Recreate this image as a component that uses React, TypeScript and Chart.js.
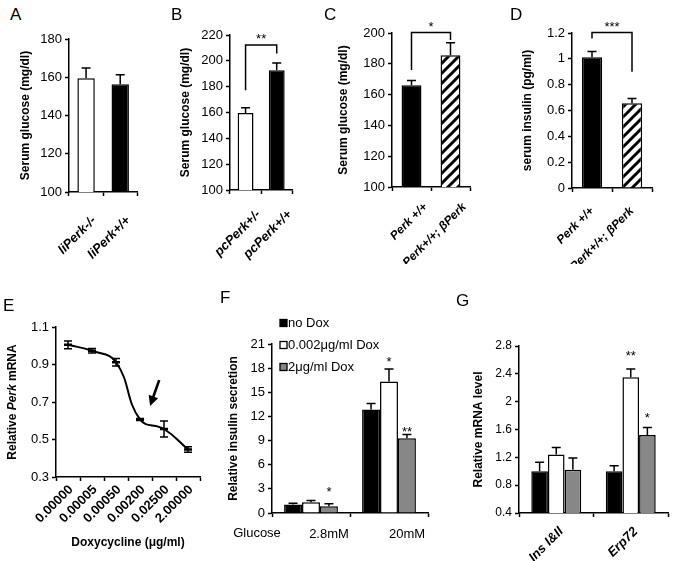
import React, { useEffect, useRef } from 'react';
import { Chart, registerables } from 'chart.js';

Chart.register(...registerables);

const FONT = "'Liberation Sans', Arial, Helvetica, sans-serif";
const BLACK = '#000000';
const WHITE = '#ffffff';
const GRAY = '#878787';

// ---------- Panel A ----------
const aCategories = ['liPerk-/-', 'liPerk+/+'];
const aValues = [159.5, 156.4];
const aErrors = [5.3, 4.9];
const aAxis = [100, 180, 20];

// ---------- Panel B ----------
const bCategories = ['pcPerk+/-', 'pcPerk+/+'];
const bValues = [159.6, 192.7];
const bErrors = [4.1, 5.7];
const bAxis = [100, 220, 20];
const bBracket = [212.2, 177.2, 205.7, 219.5]; // top, left end, right end, mark level
const bMark = '**';

// ---------- Panel C ----------
const cCategories = ['Perk +/+', 'Perk+/+; βPerk'];
const cValues = [166.0, 185.6];
const cErrors = [3.2, 8.0];
const cAxis = [100, 200, 20];
const cBracket = [200.3, 176.0, 195.5, 206.0];
const cMark = '*';

// ---------- Panel D ----------
const dCategories = ['Perk +/+', 'Perk+/+; βPerk'];
const dValues = [1.012, 0.657];
const dErrors = [0.045, 0.035];
const dAxis = [0, 1.2, 0.2];
const dBracket = [1.203, 1.157, 0.9, 1.272];
const dMark = '***';

// ---------- Panel E ----------
const eCategories = ['0.00000', '0.00005', '0.00050', '0.00200', '0.02500', '2.00000'];
const eValues = [1.005, 0.973, 0.912, 0.607, 0.556, 0.447];
const eErrors = [0.021, 0.012, 0.02, 0.005, 0.043, 0.015];
const eAxis = [0.3, 1.1, 0.2];
const eArrow = [3.8, 0.817, 3.42, 0.679]; // tail x-index, tail value, head x-index, head value

// ---------- Panel F ----------
const fCategories = ['2.8mM', '20mM'];
const fSeries = ['no Dox', '0.002μg/ml Dox', '2μg/ml Dox'];
const fNoDox = [1.05, 12.85];
const fLowDox = [1.35, 16.35];
const fHighDox = [0.85, 9.3];
const fNoDoxErr = [0.15, 0.75];
const fLowDoxErr = [0.2, 1.55];
const fHighDoxErr = [0.3, 0.45];
const fAxis = [0, 21, 3];
const fMarks = [
  { series: 2, cat: 0, value: 3.1, text: '*' },
  { series: 1, cat: 1, value: 19.2, text: '*' },
  { series: 2, cat: 1, value: 10.5, text: '**' },
];

// ---------- Panel G ----------
const gCategories = ['Ins I&II', 'Erp72'];
const gNoDox = [1.0, 1.0];
const gLowDox = [1.24, 2.35];
const gHighDox = [1.02, 1.52];
const gNoDoxErr = [0.13, 0.08];
const gLowDoxErr = [0.1, 0.12];
const gHighDoxErr = [0.17, 0.11];
const gAxis = [0.4, 2.8, 0.4];
const gMarks = [
  { series: 1, cat: 1, value: 2.7, text: '**' },
  { series: 2, cat: 1, value: 1.81, text: '*' },
];

// ---------- helpers ----------
const fmt = (v: number | string) => String(Math.round(Number(v) * 100) / 100);

function makeHatch(): any {
  const s = 10;
  const c = document.createElement('canvas');
  c.width = s;
  c.height = s;
  const g = c.getContext('2d');
  if (!g) return WHITE;
  g.fillStyle = WHITE;
  g.fillRect(0, 0, s, s);
  g.strokeStyle = BLACK;
  g.lineWidth = 3;
  g.beginPath();
  [0, s, 2 * s].forEach((k) => {
    g.moveTo(k - s - 2, s + 2);
    g.lineTo(k + 2, -2);
  });
  g.stroke();
  return g.createPattern(c, 'repeat') || WHITE;
}

function drawMark(ctx: CanvasRenderingContext2D, text: string, x: number, y: number) {
  ctx.save();
  ctx.fillStyle = BLACK;
  ctx.font = `13px ${FONT}`;
  ctx.textAlign = 'center';
  ctx.textBaseline = 'alphabetic';
  ctx.fillText(text, x, y + 7.5);
  ctx.restore();
}

const errorBarsPlugin = {
  id: 'errorBars',
  afterDatasetsDraw(chart: any, _a: any, opts: any) {
    const ctx = chart.ctx;
    const ys = chart.scales.y;
    const cap = opts.cap ?? 4;
    chart.data.datasets.forEach((ds: any, di: number) => {
      const errs: number[] | undefined = ds.errors;
      if (!errs) return;
      const meta = chart.getDatasetMeta(di);
      meta.data.forEach((el: any, i: number) => {
        const v = ds.data[i] as number;
        const e = errs[i];
        const yTop = ys.getPixelForValue(v + e);
        const yBot = ys.getPixelForValue(opts.both ? v - e : v);
        ctx.save();
        ctx.strokeStyle = BLACK;
        ctx.lineWidth = opts.width ?? 1.5;
        ctx.beginPath();
        ctx.moveTo(el.x, yBot);
        ctx.lineTo(el.x, yTop);
        ctx.moveTo(el.x - cap, yTop);
        ctx.lineTo(el.x + cap, yTop);
        if (opts.both) {
          ctx.moveTo(el.x - cap, yBot);
          ctx.lineTo(el.x + cap, yBot);
        }
        ctx.stroke();
        ctx.restore();
      });
    });
  },
};

const bracketPlugin = {
  id: 'bracket',
  afterDraw(chart: any, _a: any, opts: any) {
    if (!opts || !opts.levels) return;
    const [top, leftEnd, rightEnd, markLevel] = opts.levels;
    const ys = chart.scales.y;
    const meta = chart.getDatasetMeta(0);
    const x1 = meta.data[0].x;
    const x2 = meta.data[1].x;
    const ctx = chart.ctx;
    ctx.save();
    ctx.strokeStyle = BLACK;
    ctx.lineWidth = 1.5;
    ctx.beginPath();
    ctx.moveTo(x1, ys.getPixelForValue(leftEnd));
    ctx.lineTo(x1, ys.getPixelForValue(top));
    ctx.lineTo(x2, ys.getPixelForValue(top));
    ctx.lineTo(x2, ys.getPixelForValue(rightEnd));
    ctx.stroke();
    ctx.restore();
    drawMark(ctx, opts.text, (x1 + x2) / 2, ys.getPixelForValue(markLevel));
  },
};

const marksPlugin = {
  id: 'marks',
  afterDraw(chart: any, _a: any, opts: any) {
    if (!opts || !opts.items) return;
    const ys = chart.scales.y;
    opts.items.forEach((m: any) => {
      const el = chart.getDatasetMeta(m.series).data[m.cat];
      drawMark(chart.ctx, m.text, el.x, ys.getPixelForValue(m.value));
    });
  },
};

const ePlugin = {
  id: 'eDecor',
  afterDraw(chart: any) {
    const ctx: CanvasRenderingContext2D = chart.ctx;
    const xs = chart.scales.x;
    const ys = chart.scales.y;
    // arrow
    const tx = xs.getPixelForValue(eArrow[0]);
    const ty = ys.getPixelForValue(eArrow[1]);
    const hx = xs.getPixelForValue(eArrow[2]);
    const hy = ys.getPixelForValue(eArrow[3]);
    const len = Math.hypot(hx - tx, hy - ty);
    const dx = (hx - tx) / len;
    const dy = (hy - ty) / len;
    ctx.save();
    ctx.strokeStyle = BLACK;
    ctx.fillStyle = BLACK;
    ctx.lineWidth = 2.6;
    ctx.beginPath();
    ctx.moveTo(tx, ty);
    ctx.lineTo(hx - dx * 6, hy - dy * 6);
    ctx.stroke();
    ctx.beginPath();
    ctx.moveTo(hx, hy);
    ctx.lineTo(hx - dx * 10 - dy * 5, hy - dy * 10 + dx * 5);
    ctx.lineTo(hx - dx * 10 + dy * 5, hy - dy * 10 - dx * 5);
    ctx.closePath();
    ctx.fill();
    ctx.restore();
    // y title with italic gene name
    const cy = (chart.chartArea.top + chart.chartArea.bottom) / 2;
    const parts: [string, string][] = [
      ['Relative ', `bold 12px ${FONT}`],
      ['Perk', `italic bold 12px ${FONT}`],
      [' mRNA', `bold 12px ${FONT}`],
    ];
    ctx.save();
    ctx.translate(13, cy);
    ctx.rotate(-Math.PI / 2);
    ctx.fillStyle = BLACK;
    ctx.textBaseline = 'middle';
    ctx.textAlign = 'left';
    let total = 0;
    parts.forEach(([t, f]) => {
      ctx.font = f;
      total += ctx.measureText(t).width;
    });
    let x = -total / 2;
    parts.forEach(([t, f]) => {
      ctx.font = f;
      ctx.fillText(t, x, 0);
      x += ctx.measureText(t).width;
    });
    ctx.restore();
  },
};

const fPlugin = {
  id: 'fDecor',
  afterDraw(chart: any) {
    const ctx: CanvasRenderingContext2D = chart.ctx;
    const { left, top, bottom } = chart.chartArea;
    ctx.save();
    chart.data.datasets.forEach((ds: any, i: number) => {
      const y = top - 21 + i * 22;
      const x = left + 8;
      ctx.fillStyle = ds.backgroundColor;
      ctx.fillRect(x, y - 3.5, 7, 7);
      ctx.strokeStyle = BLACK;
      ctx.lineWidth = 1.3;
      ctx.strokeRect(x, y - 3.5, 7, 7);
      ctx.fillStyle = BLACK;
      ctx.font = `13px ${FONT}`;
      ctx.textAlign = 'left';
      ctx.textBaseline = 'middle';
      ctx.fillText(ds.label, x + 8, y);
    });
    ctx.font = `13px ${FONT}`;
    ctx.textAlign = 'center';
    ctx.textBaseline = 'middle';
    ctx.fillStyle = BLACK;
    ctx.fillText('Glucose', left - 15, bottom + 20);
    ctx.restore();
  },
};

function valueAxis(axis: number[], width: number, title: string, titlePad: number, tickSize: number) {
  return {
    type: 'linear',
    min: axis[0],
    max: axis[1],
    afterFit: (s: any) => {
      s.width = width;
    },
    ticks: {
      stepSize: axis[2],
      color: BLACK,
      font: { family: FONT, size: tickSize },
      padding: 3,
      callback: fmt,
    },
    grid: { drawOnChartArea: false, drawTicks: true, tickLength: 4, tickWidth: 1.5, tickColor: BLACK },
    border: { display: true, color: BLACK, width: 1.5 },
    title: {
      display: !!title,
      text: title,
      color: BLACK,
      font: { family: FONT, size: 12, weight: 'bold' },
      padding: { top: titlePad, bottom: 0 },
    },
  };
}

function categoryAxis(height: number, font: any, rotation: number, labelOffset: number, padding: number, title?: any) {
  return {
    type: 'category',
    offset: true,
    afterFit: (s: any) => {
      s.height = height;
    },
    ticks: {
      color: BLACK,
      font,
      autoSkip: false,
      maxRotation: rotation,
      minRotation: rotation,
      labelOffset,
      padding,
    },
    grid: { offset: true, drawOnChartArea: false, drawTicks: true, tickLength: 4, tickWidth: 1.5, tickColor: BLACK },
    border: { display: true, color: BLACK, width: 1.5 },
    title: title || { display: false },
  };
}

function common(padTop: number, padRight: number, scales: any, plugins: any) {
  return {
    responsive: false,
    animation: false,
    events: [],
    devicePixelRatio: 1,
    layout: { padding: { top: padTop, right: padRight, left: 0, bottom: 0 } },
    plugins: { legend: { display: false }, tooltip: { enabled: false }, ...plugins },
    scales,
  };
}

const xFont = (size: number) => ({ family: FONT, size, weight: 'bold', style: 'italic' });

function twoBarConfig(
  cats: string[], vals: number[], errs: number[], colors: any[], axis: number[],
  yWidth: number, xHeight: number, padTop: number, padRight: number,
  title: string, titlePad: number, labelSize: number, labelOffset: number, xPad: number,
  bracket?: number[], mark?: string,
): any {
  const plugins: any = { errorBars: { cap: 4.5 } };
  const list: any[] = [errorBarsPlugin];
  if (bracket) {
    plugins.bracket = { levels: bracket, text: mark };
    list.push(bracketPlugin);
  }
  return {
    type: 'bar',
    data: {
      labels: cats,
      datasets: [{
        data: vals,
        errors: errs,
        backgroundColor: colors,
        borderColor: BLACK,
        borderWidth: 1.5,
        barPercentage: 0.51,
        categoryPercentage: 1,
      }],
    },
    options: common(padTop, padRight, {
      x: categoryAxis(xHeight, xFont(labelSize), 45, labelOffset, xPad),
      y: valueAxis(axis, yWidth, title, titlePad, 13),
    }, plugins),
    plugins: list,
  };
}

function groupedConfig(
  cats: string[], series: number[][], errs: number[][], axis: number[],
  yWidth: number, xHeight: number, padTop: number, padRight: number,
  title: string, titlePad: number, catPct: number, xAxisOpts: any, tickSize: number,
  marks: any[], extra: any[],
): any {
  const colors = [BLACK, WHITE, GRAY];
  return {
    type: 'bar',
    data: {
      labels: cats,
      datasets: series.map((s, i) => ({
        label: fSeries[i],
        data: s,
        errors: errs[i],
        backgroundColor: colors[i],
        borderColor: BLACK,
        borderWidth: 1.5,
        barPercentage: 1,
        categoryPercentage: catPct,
      })),
    },
    options: common(padTop, padRight, {
      x: xAxisOpts,
      y: valueAxis(axis, yWidth, title, titlePad, tickSize),
    }, { errorBars: { cap: 4.5 }, marks: { items: marks } }),
    plugins: [errorBarsPlugin, marksPlugin, ...extra],
  };
}

function configA() {
  return twoBarConfig(aCategories, aValues, aErrors, [WHITE, BLACK], aAxis, 59, 72, 15, 7,
    'Serum glucose (mg/dl)', 8, 13, 8, 17);
}
function configB() {
  return twoBarConfig(bCategories, bValues, bErrors, [WHITE, BLACK], bAxis, 62, 74, 15, 5,
    'Serum glucose (mg/dl)', 10, 13, 13, 13, bBracket, bMark);
}
function configC() {
  return twoBarConfig(cCategories, cValues, cErrors, [BLACK, makeHatch()], cAxis, 62, 77, 18, 5,
    'Serum glucose (mg/dl)', 6, 12, 14, 9, cBracket, cMark);
}
function configD() {
  return twoBarConfig(dCategories, dValues, dErrors, [BLACK, makeHatch()], dAxis, 67, 76, 18, 8,
    'serum insulin (pg/ml)', 15, 12, 0, 12, dBracket, dMark);
}
function configE(): any {
  return {
    type: 'line',
    data: {
      labels: eCategories,
      datasets: [{
        data: eValues,
        errors: eErrors,
        borderColor: BLACK,
        borderWidth: 2,
        tension: 0.45,
        fill: false,
        pointStyle: 'line',
        pointRadius: 4,
        pointBorderWidth: 2.5,
        pointBorderColor: BLACK,
        pointBackgroundColor: BLACK,
      }],
    },
    options: common(27, 10, {
      x: categoryAxis(84, { family: FONT, size: 13, weight: 'bold' }, 45, 3, 1, {
        display: true,
        text: 'Doxycycline (μg/ml)',
        color: BLACK,
        font: { family: FONT, size: 12, weight: 'bold' },
        padding: { top: 0, bottom: 11 },
      }),
      y: valueAxis(eAxis, 56, '', 0, 13),
    }, { errorBars: { cap: 4, both: true } }),
    plugins: [errorBarsPlugin, ePlugin],
  };
}
function configF() {
  const x = categoryAxis(48, { family: FONT, size: 13 }, 0, 18, 10);
  return groupedConfig(fCategories, [fNoDox, fLowDox, fHighDox], [fNoDoxErr, fLowDoxErr, fHighDoxErr],
    fAxis, 52, 48, 44, 7, 'Relative insulin secretion', 6, 0.69, x, 13, fMarks, [fPlugin]);
}
function configG() {
  const x = categoryAxis(48, xFont(13), 45, 5, 7);
  return groupedConfig(gCategories, [gNoDox, gLowDox, gHighDox], [gNoDoxErr, gLowDoxErr, gHighDoxErr],
    gAxis, 64, 48, 46, 5, 'Relative mRNA level', 16, 0.67, x, 12, gMarks, []);
}

type PanelProps = { left: number; top: number; width: number; height: number; build: () => any };

function Panel({ left, top, width, height, build }: PanelProps) {
  const ref = useRef<HTMLCanvasElement>(null);
  useEffect(() => {
    if (!ref.current) return;
    const chart = new Chart(ref.current, build());
    return () => chart.destroy();
  }, []);
  return (
    <div style={{ position: 'absolute', left, top, width, height }}>
      <canvas ref={ref} width={width} height={height} style={{ width, height, display: 'block' }} />
    </div>
  );
}

const letters: [string, number, number][] = [
  ['A', 16, 14], ['B', 177, 14], ['C', 330, 14], ['D', 516, 14],
  ['E', 9, 305], ['F', 226, 297], ['G', 462, 300],
];

export default function App() {
  return (
    <div style={{ position: 'absolute', left: 0, top: 0, width: 673, height: 561, background: WHITE, overflow: 'hidden' }}>
      <Panel left={10} top={24} width={140} height={240} build={configA} />
      <Panel left={168} top={20} width={134} height={244} build={configB} />
      <Panel left={330} top={15} width={145} height={249} build={configC} />
      <Panel left={505} top={15} width={155} height={249} build={configD} />
      <Panel left={0} top={300} width={210} height={261} build={configE} />
      <Panel left={220} top={300} width={215} height={261} build={configF} />
      <Panel left={455} top={300} width={218} height={261} build={configG} />
      {letters.map(([t, cx, cy]) => (
        <div key={t} style={{
          position: 'absolute', left: cx - 6, top: cy - 8, fontFamily: FONT, fontSize: 17,
          lineHeight: '17px', color: BLACK,
        }}>{t}</div>
      ))}
    </div>
  );
}
